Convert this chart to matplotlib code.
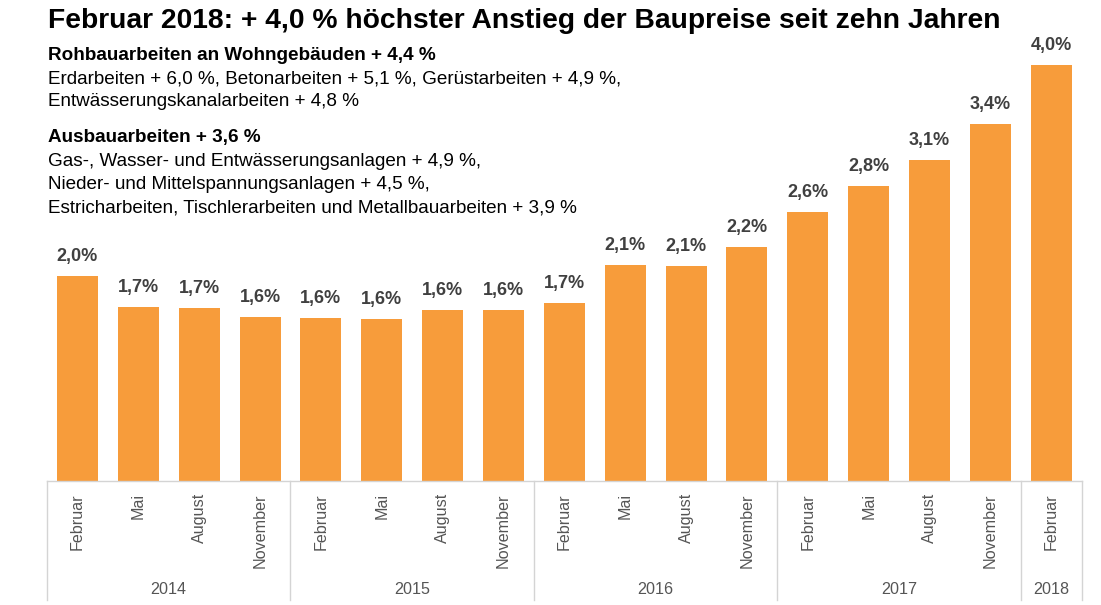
import matplotlib
matplotlib.use("Agg")
import matplotlib.pyplot as plt
from matplotlib.transforms import blended_transform_factory

# ---- data ----
values = [1.97, 1.67, 1.66, 1.57, 1.56, 1.55, 1.64, 1.64, 1.71,
          2.07, 2.06, 2.24, 2.58, 2.83, 3.08, 3.42, 3.99]
value_labels = ['2,0%', '1,7%', '1,7%', '1,6%', '1,6%', '1,6%', '1,6%', '1,6%', '1,7%',
                '2,1%', '2,1%', '2,2%', '2,6%', '2,8%', '3,1%', '3,4%', '4,0%']
months = ['Februar', 'Mai', 'August', 'November'] * 4 + ['Februar']
years = ['2014', '2015', '2016', '2017', '2018']
year_counts = [4, 4, 4, 4, 1]

title = "Februar 2018: + 4,0 % höchster Anstieg der Baupreise seit zehn Jahren"
text_lines = [
    ("Rohbauarbeiten an Wohngebäuden + 4,4 %", True),
    ("Erdarbeiten + 6,0 %, Betonarbeiten + 5,1 %, Gerüstarbeiten + 4,9 %,", False),
    ("Entwässerungskanalarbeiten + 4,8 %", False),
    ("Ausbauarbeiten + 3,6 %", True),
    ("Gas-, Wasser- und Entwässerungsanlagen + 4,9 %,", False),
    ("Nieder- und Mittelspannungsanlagen + 4,5 %,", False),
    ("Estricharbeiten, Tischlerarbeiten und Metallbauarbeiten + 3,9 %", False),
]
line_baselines_px = [59.5, 83, 106, 142, 166, 189, 212]

plt.rcParams['font.family'] = ['Liberation Sans', 'DejaVu Sans']

W, H = 1101, 605
fig = plt.figure(figsize=(W / 100, H / 100), dpi=100)
fig.patch.set_facecolor('white')

ax_left, ax_right = 47 / W, 1081.7 / W
ax_bottom_px, ax_top_px = 481, 20
ax = fig.add_axes([ax_left, 1 - ax_bottom_px / H, ax_right - ax_left,
                   (ax_bottom_px - ax_top_px) / H])
n = len(values)
ax.set_xlim(-0.5, n - 0.5)
ax.set_ylim(0, (ax_bottom_px - ax_top_px) / 104.25)
ax.axis('off')

bar_color = '#F79C3B'
x = list(range(n))
ax.bar(x, values, width=0.674, color=bar_color, zorder=2)

for xi, v, lab in zip(x, values, value_labels):
    ax.annotate(lab, (xi, v), xytext=(0, 10.8), textcoords='offset points',
                ha='center', va='baseline', fontsize=13, fontweight='bold',
                color='#404040')

# category table
tr = blended_transform_factory(ax.transData, ax.transAxes)
axh = ax_bottom_px - ax_top_px
def yfrac(px):
    return (ax_bottom_px - px) / axh

line_color = '#D4D4D4'
ax.plot([-0.5, n - 0.5], [0, 0], color=line_color, lw=1, transform=tr,
        clip_on=False, zorder=3)
for xi, m in zip(x, months):
    ax.text(xi, yfrac(493), m, rotation=90, ha='center', va='top',
            fontsize=11.6, color='#555555', transform=tr, clip_on=False)

start = 0
bounds = [-0.5]
for yr, c in zip(years, year_counts):
    end = start + c
    ax.text((start + end - 1) / 2, yfrac(590), yr, ha='center', va='center',
            fontsize=11.6, color='#555555', transform=tr, clip_on=False)
    bounds.append(end - 0.5)
    start = end
for b in bounds:
    ax.plot([b, b], [0, yfrac(600)], color=line_color, lw=1, transform=tr,
            clip_on=False)

# header texts
fig.text(48.5 / W, 1 - 28.5 / H, title, ha='left', va='baseline',
         fontsize=20.3, fontweight='bold', color='#000000')
for (t, bold), yb in zip(text_lines, line_baselines_px):
    fig.text(48.5 / W, 1 - yb / H, t, ha='left', va='baseline',
             fontsize=13.6, fontweight='bold' if bold else 'normal',
             color='#000000')

fig.savefig('out.png', dpi=100, facecolor='white')
